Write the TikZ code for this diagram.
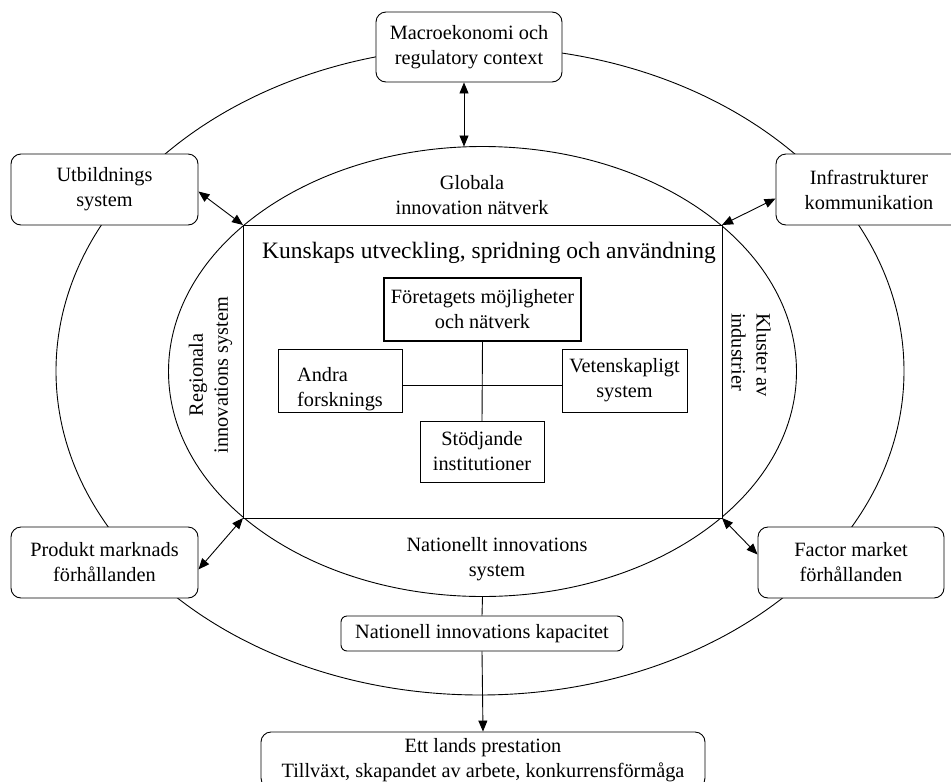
\documentclass[tikz,border=0pt]{standalone}
\usepackage{fontspec}
\setmainfont{Liberation Serif}
\usetikzlibrary{shapes.geometric,arrows.meta}
\begin{document}
\begin{tikzpicture}[x=1pt,y=-1pt,
  font=\fontsize{20.3}{25}\selectfont,
  line width=0.9pt,
  rbox/.style={draw,fill=white,rounded corners=10pt,align=center,inner sep=0pt},
  sbox/.style={draw,fill=white,align=center,inner sep=0pt,outer sep=0pt},
  ell/.style={draw,ellipse,inner sep=0pt,outer sep=0pt},
  dbl/.style={{Triangle[length=11pt,width=9pt]}-{Triangle[length=11pt,width=9pt]}},
  sgl/.style={-{Triangle[length=11pt,width=9pt]}},
  lbl/.style={align=center,inner sep=0pt}]
\useasboundingbox (0,0) rectangle (951,782);
\clip (0,0) rectangle (951,782);
% ellipses and central rectangle
\node[ell,minimum width=848pt,minimum height=648pt] (outer) at (480,371) {};
\node[ell,minimum width=628pt,minimum height=450pt] (inner) at (482.5,371.5) {};
\node[sbox,minimum width=479pt,minimum height=293pt] (know) at (482.5,371.5) {};
% labels
\node[lbl] (glob) at (472,195.5) {Globala\\innovation nätverk};
\node[lbl,font=\fontsize{23.5}{28}\selectfont] (title) at (489,253) {Kunskaps utveckling, spridning och användning};
\node[lbl] (nis) at (497,559) {Nationellt innovations\\system};
\node[lbl,rotate=90] (reg) at (210.5,375) {Regionala\\innovations system};
\node[lbl,rotate=-90,align=left] (klu) at (751,355) {Kluster av\\industrier};
% outer boxes
\node[rbox,minimum width=186pt,minimum height=70pt] (macro) at (469,47) {Macroekonomi och\\regulatory context};
\node[rbox,minimum width=187pt,minimum height=71pt] (utb) at (104.5,189.5) {Utbildnings\\system};
\node[rbox,minimum width=186pt,minimum height=71pt] (infra) at (869,189.5) {Infrastrukturer\\kommunikation};
\node[rbox,minimum width=187pt,minimum height=71pt] (prod) at (104.5,562.5) {Produkt marknads\\förhållanden};
\node[rbox,minimum width=186pt,minimum height=71pt] (fact) at (851,562.5) {Factor market\\förhållanden};
\node[rbox,rounded corners=6pt,minimum width=282pt,minimum height=35pt] (nat) at (482,633.5) {Nationell innovations kapacitet};
\node[rbox,minimum width=444pt,minimum height=56pt] (ett) at (483,760) {Ett lands prestation\\Tillväxt, skapandet av arbete, konkurrensförmåga};
% inner boxes
\node[sbox,line width=2.6pt,minimum width=197pt,minimum height=63pt] (foret) at (482.5,309.5) {Företagets möjligheter\\och nätverk};
\node[sbox,minimum width=124pt,minimum height=63pt] (andra) at (340,380.5) {};
\node[lbl,align=left] (andratxt) at (340,389.5) {Andra\\forsknings};
\node[sbox,minimum width=125pt,minimum height=63pt] (vet) at (624.5,380.5) {Vetenskapligt\\system};
\node[sbox,minimum width=124pt,minimum height=61pt] (stod) at (482,451.5) {Stödjande\\institutioner};
% connectors
\draw (foret.south) -- (stod.north);
\draw ([yshift=-4.5pt]andra.east) -- ([yshift=-4.5pt]vet.west);
\draw[dbl] ([xshift=-5pt]macro.south) -- ([xshift=-5pt]macro.south |- inner.north);
\draw[dbl] ([yshift=-2pt]utb.east) -- (know.north west);
\draw[dbl] ([yshift=-9pt]infra.west) -- (know.north east);
\draw[dbl] ([yshift=-7pt]prod.east) -- (know.south west);
\draw[dbl] ([yshift=8pt]fact.west) -- (know.south east);
\draw (inner.south) -- (nat.north);
\draw[sgl] (nat.south) -- (ett.north);
\end{tikzpicture}
\end{document}
